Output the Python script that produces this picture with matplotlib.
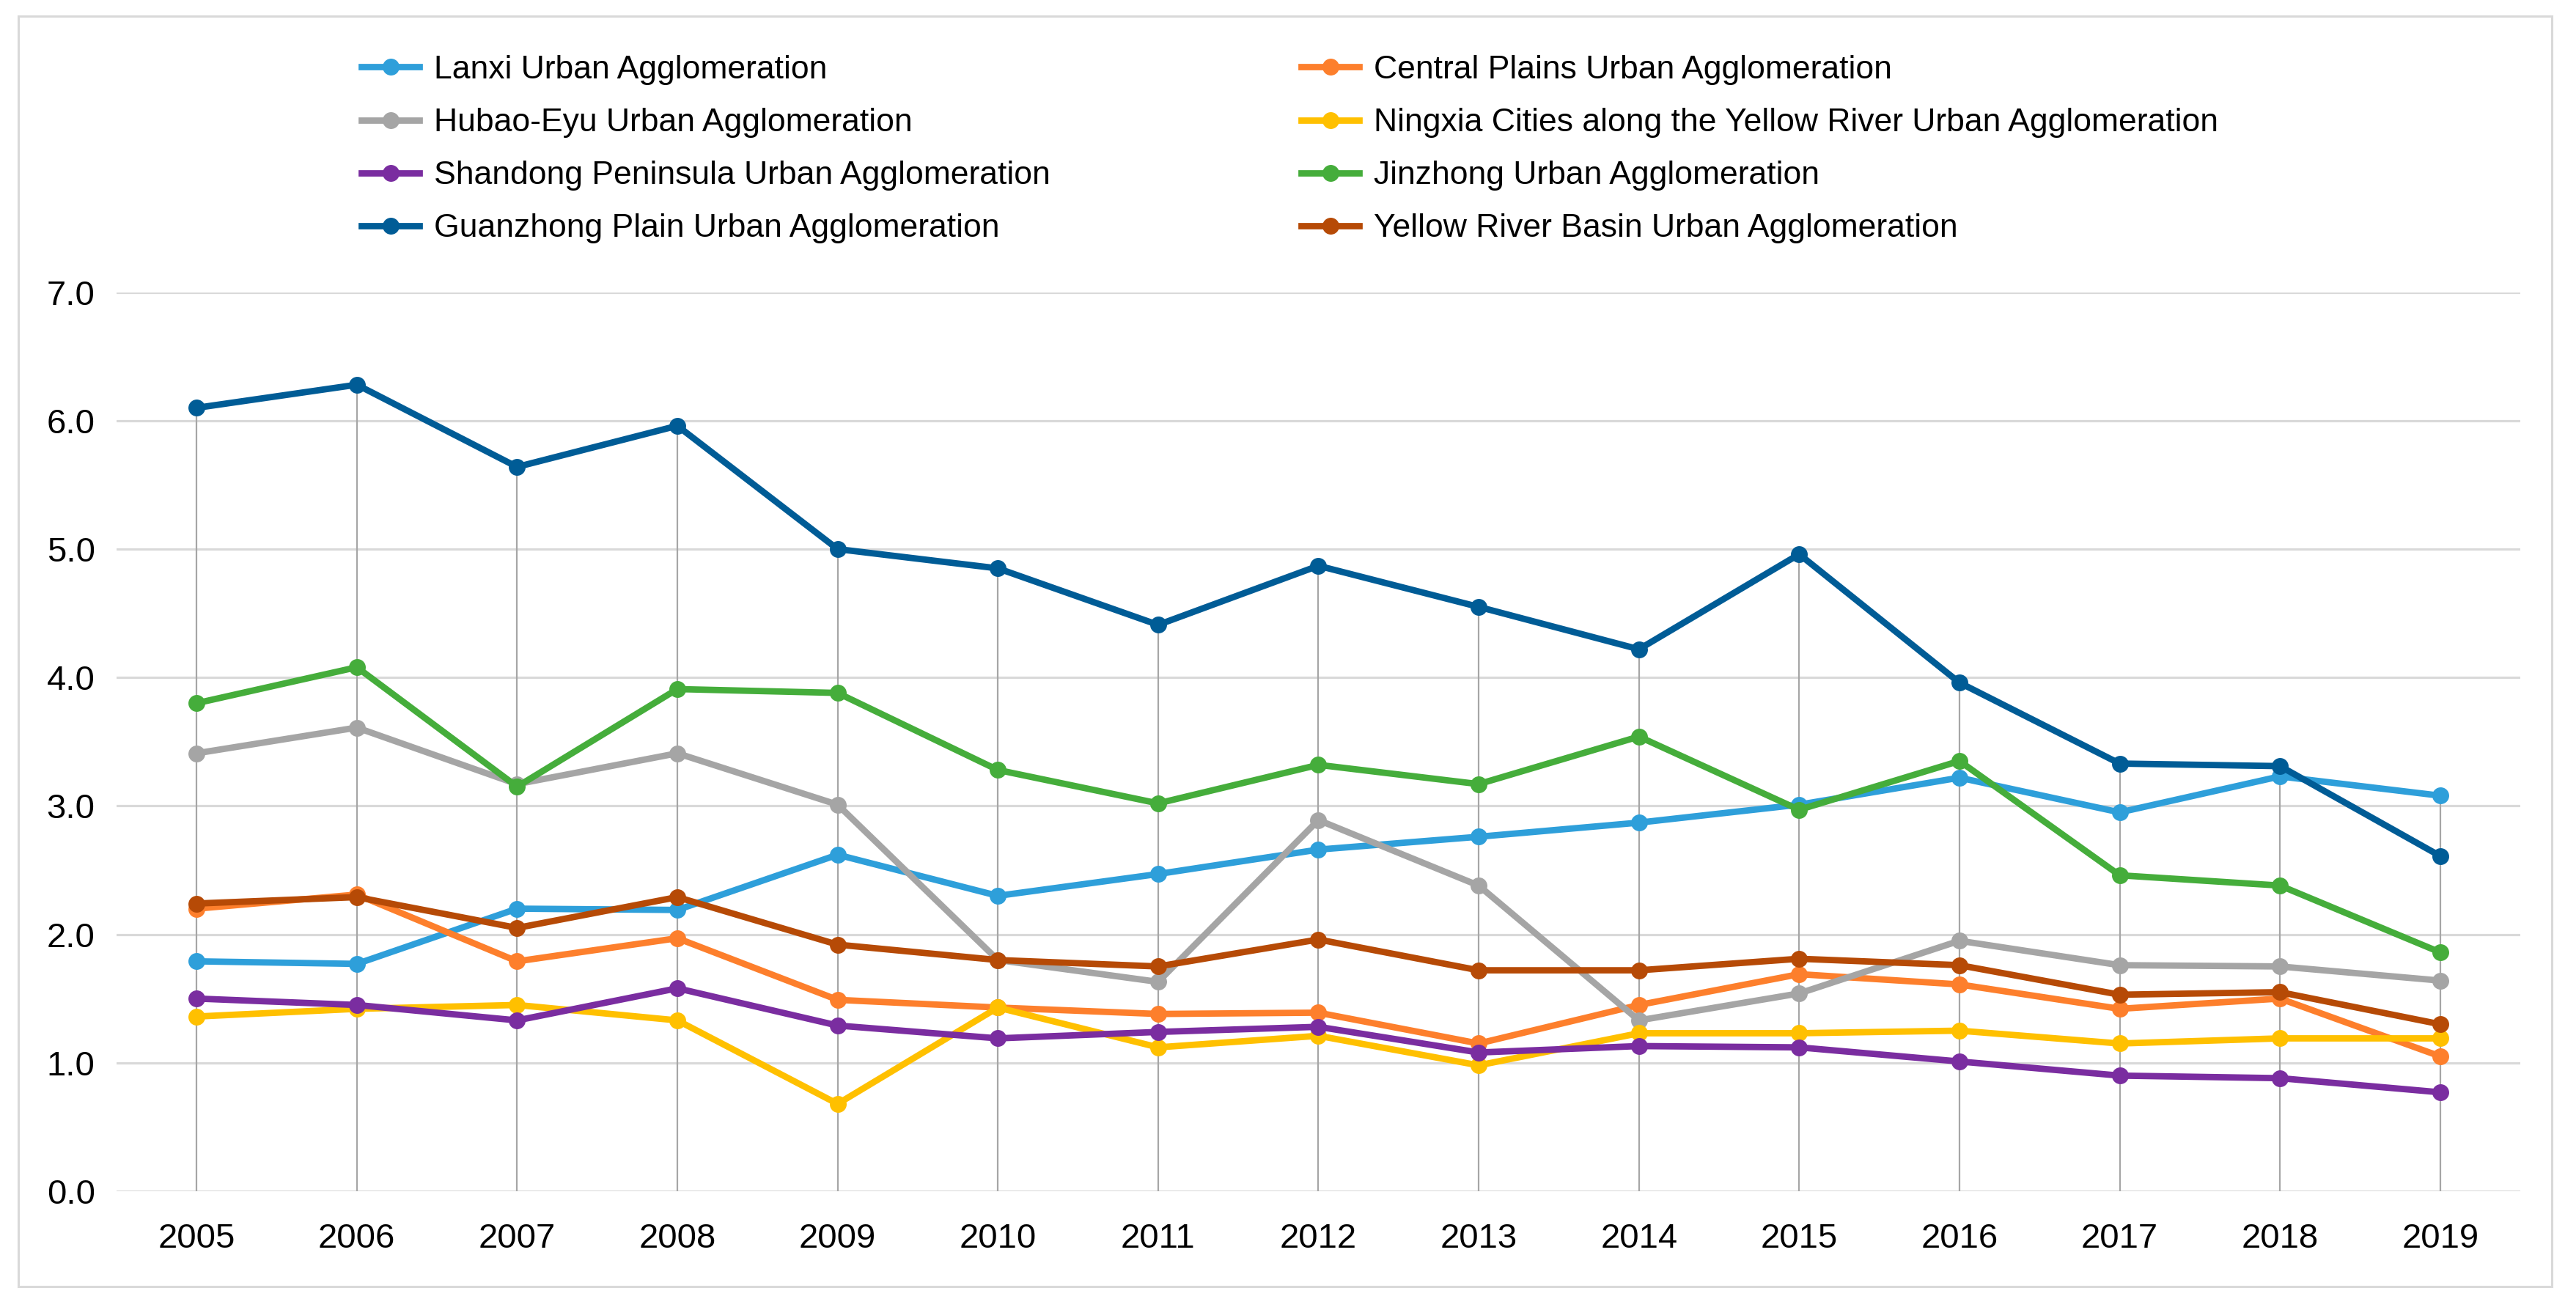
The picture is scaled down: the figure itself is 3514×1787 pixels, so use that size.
import matplotlib.pyplot as plt
from matplotlib.patches import Rectangle
import numpy as np

plt.rcParams["font.family"] = ["Liberation Sans", "DejaVu Sans"]

# --- DATA ---
years = np.arange(2005, 2020)

lanxi = [1.79, 1.77, 2.20, 2.19, 2.62, 2.30, 2.47, 2.66, 2.76, 2.87, 3.01, 3.22, 2.95, 3.23, 3.08]
central_plains = [2.20, 2.31, 1.79, 1.97, 1.49, 1.43, 1.38, 1.39, 1.15, 1.45, 1.69, 1.61, 1.42, 1.50, 1.05]
hubao_eyu = [3.41, 3.61, 3.17, 3.41, 3.01, 1.80, 1.63, 2.89, 2.38, 1.33, 1.54, 1.95, 1.76, 1.75, 1.64]
ningxia = [1.36, 1.42, 1.45, 1.33, 0.68, 1.43, 1.12, 1.21, 0.98, 1.23, 1.23, 1.25, 1.15, 1.19, 1.19]
shandong = [1.50, 1.45, 1.33, 1.58, 1.29, 1.19, 1.24, 1.28, 1.08, 1.13, 1.12, 1.01, 0.90, 0.88, 0.77]
jinzhong = [3.80, 4.08, 3.15, 3.91, 3.88, 3.28, 3.02, 3.32, 3.17, 3.54, 2.97, 3.35, 2.46, 2.38, 1.86]
guanzhong = [6.10, 6.28, 5.64, 5.96, 5.00, 4.85, 4.41, 4.87, 4.55, 4.22, 4.96, 3.96, 3.33, 3.31, 2.61]
yellow_river = [2.24, 2.29, 2.05, 2.29, 1.92, 1.80, 1.75, 1.96, 1.72, 1.72, 1.81, 1.76, 1.53, 1.55, 1.30]

series = [
    ("Lanxi Urban Agglomeration", lanxi, "#2e9fda"),
    ("Central Plains Urban Agglomeration", central_plains, "#fd7f2c"),
    ("Hubao-Eyu Urban Agglomeration", hubao_eyu, "#a5a5a5"),
    ("Ningxia Cities along the Yellow River Urban Agglomeration", ningxia, "#ffc000"),
    ("Shandong Peninsula Urban Agglomeration", shandong, "#7a2da0"),
    ("Jinzhong Urban Agglomeration", jinzhong, "#45ad3b"),
    ("Guanzhong Plain Urban Agglomeration", guanzhong, "#005c96"),
    ("Yellow River Basin Urban Agglomeration", yellow_river, "#b64a06"),
]

y_ticks = [0, 1, 2, 3, 4, 5, 6, 7]

# --- PLOT ---
fig = plt.figure(figsize=(35.14, 17.87), dpi=100)
ax = fig.add_axes([0.0452, 0.0907, 0.9332, 0.6862])

# outer frame
fig.patches.append(Rectangle((25 / 3514, 1 - 1755 / 1787), (3481 - 25) / 3514, (1755 - 22) / 1787,
                             transform=fig.transFigure, fill=False, edgecolor="#d9d9d9",
                             linewidth=2.2, zorder=0))

# drop lines from the highest point of each year
all_vals = np.array([s[1] for s in series])
ax.vlines(years, 0, all_vals.max(axis=0), color="#a6a6a6", linewidth=1.6, zorder=1.5)

handles = []
for name, vals, col in series:
    h, = ax.plot(years, vals, color=col, linewidth=6.3, marker="o", markersize=15.5,
                 markeredgecolor=col, label=name, zorder=2)
    handles.append(h)

ax.set_xlim(2004.5, 2019.5)
ax.set_ylim(0, 7)
ax.set_xticks(years)
ax.set_xticklabels([str(y) for y in years])
ax.set_yticks(y_ticks)
ax.set_yticklabels([f"{v:.1f}" for v in y_ticks])
ax.tick_params(axis="both", length=0, labelsize=34)
ax.tick_params(axis="y", pad=21)
ax.tick_params(axis="x", pad=31)

ax.grid(True, axis="y", color="#d9d9d9", linewidth=2.3, zorder=0)
ax.set_axisbelow(True)
for sp in ax.spines.values():
    sp.set_visible(False)

# --- LEGEND (two columns, row-wise order) ---
leg_kw = dict(loc="upper left", frameon=False, fontsize=32, handlelength=1.78,
              handletextpad=0.45, labelspacing=0.70, borderpad=0, borderaxespad=0)
leg1 = fig.legend(handles[0::2], [h.get_label() for h in handles[0::2]],
                  bbox_to_anchor=(493 / 3514, 1 - 75 / 1787), **leg_kw)
leg2 = fig.legend(handles[1::2], [h.get_label() for h in handles[1::2]],
                  bbox_to_anchor=(1775 / 3514, 1 - 75 / 1787), **leg_kw)

fig.savefig("out.png", dpi=100)
